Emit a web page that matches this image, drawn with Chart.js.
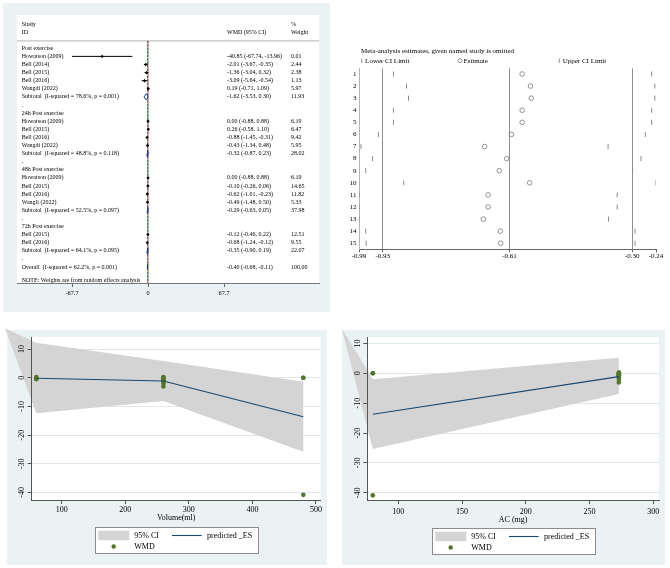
<!DOCTYPE html>
<html><head><meta charset="utf-8">
<script src="https://cdn.jsdelivr.net/npm/chart.js@4.4.1/dist/chart.umd.min.js"></script>
<style>
html,body{margin:0;padding:0;background:#fff;width:670px;height:568px;overflow:hidden;}
.bg{position:absolute;background:#eaf2f3;}
canvas{position:absolute;}
</style></head><body>
<div class="bg" style="left:3px;top:3px;width:327px;height:309px"></div>
<div class="bg" style="left:7px;top:330px;width:320px;height:235px"></div>
<div class="bg" style="left:342px;top:330px;width:323px;height:235px"></div>
<canvas id="cA" width="333" height="315" style="left:0;top:0"></canvas>
<canvas id="cB" width="330" height="230" style="left:340px;top:40px"></canvas>
<canvas id="cC" width="335" height="248" style="left:0;top:320px"></canvas>
<canvas id="cD" width="335" height="248" style="left:335px;top:320px"></canvas>
<script>
// ---------- Forest plot data ----------
const rowLabels = ['Post exercise','Howatson (2009)','Bell (2014)','Bell (2015)','Bell (2016)','Wangdi (2022)',
 'Subtotal  (I-squared = 78.6%, p = 0.001)','.','24h Post exercise','Howatson (2009)','Bell (2015)','Bell (2016)',
 'Wangdi (2022)','Subtotal  (I-squared = 48.8%, p = 0.118)','.','48h Post exercise','Howatson (2009)','Bell (2015)',
 'Bell (2016)','Wangli (2022)','Subtotal  (I-squared = 52.5%, p = 0.097)','.','72h Post exercise','Bell (2015)',
 'Bell (2016)','Subtotal  (I-squared = 64.1%, p = 0.095)','.','Overall  (I-squared = 62.2%, p = 0.001)'];
const rowKind = ['h','s','s','s','s','s','d','b','h','s','s','s','s','d','b','h','s','s','s','s','d','b','h','s','s','d','b','d'];
const rowEst = [null,-40.85,-2.01,-1.36,-3.09,0.19,-1.62,null,null,0.00,0.26,-0.88,-0.43,-0.32,null,null,0.00,-0.10,-0.62,-0.49,-0.29,null,null,-0.12,-0.68,-0.35,null,-0.40];
const rowLo = [null,-67.74,-3.67,-3.04,-5.64,-0.71,-3.53,null,null,-0.88,-0.58,-1.45,-1.34,-0.87,null,null,-0.88,-0.26,-1.01,-1.48,-0.63,null,null,-0.46,-1.24,-0.90,null,-0.68];
const rowHi = [null,-13.96,-0.35,0.32,-0.54,1.09,0.30,null,null,0.88,1.10,-0.31,0.48,0.23,null,null,0.88,0.06,-0.23,0.50,0.05,null,null,0.22,-0.12,0.19,null,-0.11];
const rowWeight = [null,0.01,2.44,2.38,1.13,5.97,11.93,null,null,6.19,6.47,9.42,5.95,28.02,null,null,6.19,14.65,11.82,5.33,37.98,null,null,12.51,9.55,22.07,null,100.00];
const forestTicks = [-67.7, 0, 67.7];
const forestTickLabels = ['-67.7', '0', '67.7'];
const forestNull = 0;
const forestHeader = ['Study', 'ID', 'WMD (95% CI)', '%', 'Weight'];
const forestNote = 'NOTE: Weights are from random effects analysis';

// ---------- Sensitivity (leave-one-out) data ----------
const sensRows = [1,2,3,4,5,6,7,8,9,10,11,12,13,14,15];
const sensLower = [-0.903,-0.870,-0.865,-0.903,-0.903,-0.941,-0.985,-0.956,-0.973,-0.877,-0.990,-0.990,-0.990,-0.973,-0.972];
const sensEst = [-0.578,-0.557,-0.555,-0.578,-0.578,-0.605,-0.673,-0.617,-0.636,-0.559,-0.664,-0.664,-0.676,-0.633,-0.632];
const sensUpper = [-0.251,-0.243,-0.243,-0.251,-0.251,-0.267,-0.361,-0.278,-0.299,-0.240,-0.338,-0.338,-0.360,-0.293,-0.293];
const sensTicks = [-0.99,-0.93,-0.61,-0.30,-0.24];
const sensTickLabels = ['-0.99','-0.93','-0.61','-0.30','-0.24'];
const sensRefLines = [-0.93,-0.61,-0.30];
const sensTitle = 'Meta-analysis estimates, given named study is omitted';
const sensLegend = ['Lower CI Limit','Estimate','Upper CI Limit'];

// ---------- Meta-regression data ----------
const wmdValue  = [-40.85,-2.01,-1.36,-3.09,0.19,0.00,0.26,-0.88,-0.43,0.00,-0.10,-0.62,-0.49,-0.12,-0.68];
const wmdVolume = [480,260,260,260,60,480,260,260,60,480,260,260,60,260,260];
const wmdAC     = [80,273,273,273,273,80,273,273,273,80,273,273,273,273,273];
const volBandX = [10.8, 60, 260, 480];
const volBandUpper = [17.2, 12.2, 5.8, -1.4];
const volBandLower = [17.2, -12.4, -8.1, -25.8];
const volPredX = [60, 260, 480];
const volPredY = [-0.2, -1.15, -13.6];
const volTicks = [100,200,300,400,500];
const acBandX = [55.6, 80, 273];
const acBandUpper = [15.1, -2.0, 5.2];
const acBandLower = [15.1, -25.3, -6.9];
const acPredX = [80, 273];
const acPredY = [-13.7, -1.1];
const acTicks = [100,150,200,250,300];
const regYTicks = [-40,-30,-20,-10,0,10];
const regLegend = ['95% CI','predicted _ES','WMD'];

// ---------- styles ----------
const SERIF = "'Liberation Serif','Times New Roman',serif";
Chart.defaults.font.family = SERIF;
Chart.defaults.color = '#000';
const AX = '#555';
const NAVY = '#1a476f';
const GREEN = '#55752f';
const BAND = '#d4d4d4';
const GRID = '#e0e8ec';
const fixedTicks = arr => s => { s.ticks = arr.map(v => ({value: v})); };
const whitePlot = {id:'whitePlot', beforeDraw(chart){ const {ctx, chartArea:a} = chart; ctx.save(); ctx.fillStyle='#fff'; ctx.fillRect(a.left, a.top, a.right-a.left, a.bottom-a.top); ctx.restore(); }};

// ---------- Chart A: forest plot ----------
(function(){
  const ci = [], est = [], dia = [];
  const h = 0.38;
  rowKind.forEach((k, i) => {
    if (k === 's') { ci.push({x:rowLo[i], y:i}, {x:rowHi[i], y:i}, {x:null, y:null}); est.push({x:rowEst[i], y:i}); }
    if (k === 'd') { dia.push({x:rowLo[i], y:i}, {x:rowEst[i], y:i-h}, {x:rowHi[i], y:i}, {x:rowEst[i], y:i+h}, {x:rowLo[i], y:i}, {x:null, y:null}); }
  });
  const overallIdx = rowKind.lastIndexOf('d');
  const forestPlugin = {
    id:'forestDeco',
    beforeDatasetsDraw(chart){
      const {ctx, chartArea:a, scales:{x, y}} = chart;
      const yTop = y.getPixelForValue(-0.91);
      ctx.save();
      ctx.strokeStyle = '#a0a0a0'; ctx.lineWidth = 0.8;
      ctx.beginPath(); ctx.moveTo(a.left, yTop); ctx.lineTo(a.right, yTop); ctx.stroke();
      const x0 = x.getPixelForValue(forestNull);
      ctx.strokeStyle = '#777'; ctx.lineWidth = 1;
      ctx.beginPath(); ctx.moveTo(x0, yTop); ctx.lineTo(x0, a.bottom); ctx.stroke();
      const xo = x.getPixelForValue(rowEst[overallIdx]);
      ctx.strokeStyle = '#a8323a'; ctx.setLineDash([2, 1.5]);
      ctx.beginPath(); ctx.moveTo(xo, yTop); ctx.lineTo(xo, a.bottom); ctx.stroke();
      ctx.restore();
    },
    afterDraw(chart){
      const {ctx, chartArea:a, scales:{y}} = chart;
      const xL = a.left + 4.7, xW = a.left + 210, xP = a.left + 274;
      ctx.save();
      ctx.font = '6px ' + SERIF; ctx.fillStyle = '#000'; ctx.textBaseline = 'middle'; ctx.textAlign = 'left';
      ctx.fillText(forestHeader[0], xL, y.getPixelForValue(-3.0));
      ctx.fillText(forestHeader[1], xL, y.getPixelForValue(-1.95));
      ctx.fillText(forestHeader[2], xW, y.getPixelForValue(-1.95));
      ctx.fillText(forestHeader[3], xP, y.getPixelForValue(-3.0));
      ctx.fillText(forestHeader[4], xP, y.getPixelForValue(-1.95));
      rowLabels.forEach((t, i) => {
        const py = y.getPixelForValue(i);
        ctx.fillText(t, xL, py);
        if (rowEst[i] !== null) {
          ctx.fillText(rowEst[i].toFixed(2) + ' (' + rowLo[i].toFixed(2) + ', ' + rowHi[i].toFixed(2) + ')', xW, py);
          ctx.fillText(rowWeight[i].toFixed(2), xP, py);
        }
      });
      ctx.fillText(forestNote, xL, y.getPixelForValue(28.6));
      ctx.restore();
    }
  };
  new Chart(document.getElementById('cA'), {
    type:'scatter',
    data:{datasets:[
      {data:ci, showLine:true, spanGaps:false, borderColor:'#000', borderWidth:1, pointRadius:0},
      {data:est, pointStyle:'rectRot', pointRadius:1.7, backgroundColor:'#000', borderColor:'#000', borderWidth:0},
      {data:dia, showLine:true, spanGaps:false, borderColor:'#1f3a8a', borderWidth:1, pointRadius:0}
    ]},
    options:{
      responsive:false, animation:false, events:[],
      layout:{padding:{left:17, top:15, right:14, bottom:0}},
      plugins:{legend:{display:false}, tooltip:{enabled:false}},
      scales:{
        x:{type:'linear', min:-116.7, max:152.3, afterBuildTicks:fixedTicks(forestTicks),
           ticks:{autoSkip:false, maxRotation:0, padding:2.8, font:{size:6.3}, color:'#000', callback:(v, i) => forestTickLabels[i]},
           grid:{drawOnChartArea:false, drawTicks:true, tickLength:4, tickColor:'#666', color:'#666'},
           border:{color:'#777', width:1},
           afterFit:s => { s.height = 32; }},
        y:{type:'linear', display:false, reverse:true, min:-4.11, max:28.98}
      }
    },
    plugins:[whitePlot, forestPlugin]
  });
})();

// ---------- Chart B: leave-one-out ----------
(function(){
  const deco = {
    id:'sensDeco',
    afterDraw(chart){
      const {ctx, chartArea:a} = chart;
      ctx.save();
      ctx.font = '7px ' + SERIF; ctx.fillStyle = '#000'; ctx.textBaseline = 'middle'; ctx.textAlign = 'left';
      ctx.fillText(sensTitle, a.left + 2, a.top - 17.3);
      const ly = a.top - 7.6;
      const offs = [2.7, 101, 200.3];
      sensLegend.forEach((t, i) => {
        const mx = a.left + offs[i];
        ctx.strokeStyle = '#8a8a8a'; ctx.lineWidth = 0.9;
        ctx.beginPath();
        if (i === 1) { ctx.arc(mx, ly, 2, 0, Math.PI * 2); }
        else { ctx.moveTo(mx, ly - 2.3); ctx.lineTo(mx, ly + 2.3); }
        ctx.stroke();
        ctx.fillText(t, mx + 3.4, ly);
      });
      ctx.restore();
    }
  };
  const lineMark = {pointStyle:'line', rotation:90, pointRadius:2.5, borderColor:'#8a8a8a', borderWidth:1};
  new Chart(document.getElementById('cB'), {
    type:'scatter',
    data:{datasets:[
      Object.assign({label:sensLegend[0], data:sensRows.map((r, i) => ({x:sensLower[i], y:r}))}, lineMark),
      {label:sensLegend[1], data:sensRows.map((r, i) => ({x:sensEst[i], y:r})), pointStyle:'circle', pointRadius:2.3, borderColor:'#777', backgroundColor:'rgba(0,0,0,0)', borderWidth:0.8},
      Object.assign({label:sensLegend[2], data:sensRows.map((r, i) => ({x:sensUpper[i], y:r}))}, lineMark)
    ]},
    options:{
      responsive:false, animation:false, events:[],
      layout:{padding:{left:0, top:28.3, right:14, bottom:0}},
      plugins:{legend:{display:false}, tooltip:{enabled:false}},
      scales:{
        x:{type:'linear', min:-0.99, max:-0.24, afterBuildTicks:fixedTicks(sensTicks),
           ticks:{autoSkip:false, maxRotation:0, padding:0, font:{size:7}, color:'#000', callback:(v, i) => sensTickLabels[i]},
           grid:{drawTicks:true, tickLength:3, tickColor:'#666', lineWidth:1,
                 color:c => (c.tick && sensRefLines.includes(c.tick.value)) ? '#8f8f8f' : 'rgba(0,0,0,0)'},
           border:{color:'#666', width:1},
           afterFit:s => { s.height = 20.7; }},
        y:{type:'linear', reverse:true, min:0.53, max:15.5, afterBuildTicks:fixedTicks(sensRows),
           ticks:{autoSkip:false, padding:2.5, font:{size:7}, color:'#000', callback:v => String(v)},
           grid:{display:false, drawTicks:false},
           border:{color:'#b5b5b5', width:1},
           afterFit:s => { s.width = 19; }}
      }
    },
    plugins:[deco]
  });
})();

// ---------- Charts C & D: meta-regression ----------
function makeReg(id, p){
  const bandPlugin = {
    id:'band',
    beforeDatasetsDraw(chart){
      const {ctx, scales:{x, y}} = chart;
      ctx.save(); ctx.fillStyle = BAND; ctx.beginPath();
      p.bandX.forEach((v, i) => { const px = x.getPixelForValue(v), py = y.getPixelForValue(p.bandUp[i]); if (i) ctx.lineTo(px, py); else ctx.moveTo(px, py); });
      for (let i = p.bandX.length - 1; i >= 0; i--) ctx.lineTo(x.getPixelForValue(p.bandX[i]), y.getPixelForValue(p.bandLo[i]));
      ctx.closePath(); ctx.fill(); ctx.restore();
    }
  };
  const legendPlugin = {
    id:'regLegend',
    afterDraw(chart){
      const {ctx, chartArea:a} = chart;
      const W = 163, H = 26;
      const L = Math.round((a.left + a.right) / 2 - W / 2), T = Math.round(a.bottom + p.legTop);
      const r1 = T + 8.5, r2 = T + 19.5;
      ctx.save();
      ctx.fillStyle = '#fff'; ctx.fillRect(L, T, W, H);
      ctx.strokeStyle = '#8c8c8c'; ctx.lineWidth = 1; ctx.strokeRect(L + 0.5, T + 0.5, W, H);
      ctx.fillStyle = BAND; ctx.fillRect(L + 3.3, T + 3.7, 31, 9.5);
      ctx.strokeStyle = NAVY; ctx.lineWidth = 1.1;
      ctx.beginPath(); ctx.moveTo(L + 77, r1); ctx.lineTo(L + 106.7, r1); ctx.stroke();
      ctx.fillStyle = GREEN; ctx.beginPath(); ctx.arc(L + 18.7, r2, 2.2, 0, Math.PI * 2); ctx.fill();
      ctx.font = '8px ' + SERIF; ctx.fillStyle = '#000'; ctx.textBaseline = 'middle'; ctx.textAlign = 'left';
      ctx.fillText(regLegend[0], L + 39.3, r1);
      ctx.fillText(regLegend[1], L + 112, r1);
      ctx.fillText(regLegend[2], L + 39.3, r2);
      ctx.restore();
    }
  };
  new Chart(document.getElementById(id), {
    type:'scatter',
    data:{datasets:[
      {label:regLegend[1], data:p.predX.map((v, i) => ({x:v, y:p.predY[i]})), showLine:true, borderColor:NAVY, borderWidth:1.1, pointRadius:0},
      {label:regLegend[2], data:p.ptX.map((v, i) => ({x:v, y:wmdValue[i]})), pointRadius:2.3, backgroundColor:GREEN, borderColor:GREEN, borderWidth:0}
    ]},
    options:{
      responsive:false, animation:false, events:[],
      layout:{padding:{left:0, top:17, right:p.padR, bottom:248 - 180 - p.xH}},
      plugins:{legend:{display:false}, tooltip:{enabled:false}},
      scales:{
        x:{type:'linear', min:p.xMin, max:p.xMax, afterBuildTicks:fixedTicks(p.xTicks),
           ticks:{autoSkip:false, maxRotation:0, padding:p.xPad, font:{size:8}, color:'#000', callback:v => String(v)},
           grid:{drawOnChartArea:false, drawTicks:true, tickLength:4, tickColor:AX, color:AX},
           border:{color:AX, width:1},
           title:{display:true, text:p.title, font:{size:8}, color:'#000', padding:{top:0, bottom:0}},
           afterFit:s => { s.height = p.xH; }},
        y:{type:'linear', min:p.yMin, max:p.yMax, afterBuildTicks:fixedTicks(regYTicks),
           ticks:{display:false}, grid:{color:GRID, drawTicks:false, lineWidth:1}, border:{display:false},
           afterFit:s => { s.width = 0; }},
        yl:{type:'linear', position:'left', min:p.yMin, max:p.yMax, afterBuildTicks:fixedTicks(regYTicks),
           ticks:{z:1, autoSkip:false, minRotation:90, maxRotation:90, crossAlign:'center', padding:0, font:{size:8}, color:'#000', callback:v => String(v)},
           grid:{z:1, drawOnChartArea:false, drawTicks:true, tickLength:4, tickColor:AX, color:AX},
           border:{z:1, color:AX, width:1},
           afterFit:s => { s.width = p.yW; }}
      }
    },
    plugins:[whitePlot, bandPlugin, legendPlugin]
  });
}
makeReg('cC', {xMin:52.8, xMax:507.4, xTicks:volTicks, yMin:-42.64, yMax:14.19, yW:31.7, padR:14.3,
  xPad:1.6, xH:23.1, legTop:26.5, title:'Volume(ml)', bandX:volBandX, bandUp:volBandUpper, bandLo:volBandLower,
  predX:volPredX, predY:volPredY, ptX:wmdVolume});
makeReg('cD', {xMin:75.7, xMax:304.5, xTicks:acTicks, yMin:-42.4, yMax:12.15, yW:32.3, padR:11,
  xPad:3.3, xH:24.8, legTop:27.8, title:'AC (mg)', bandX:acBandX, bandUp:acBandUpper, bandLo:acBandLower,
  predX:acPredX, predY:acPredY, ptX:wmdAC});
</script>
</body></html>
